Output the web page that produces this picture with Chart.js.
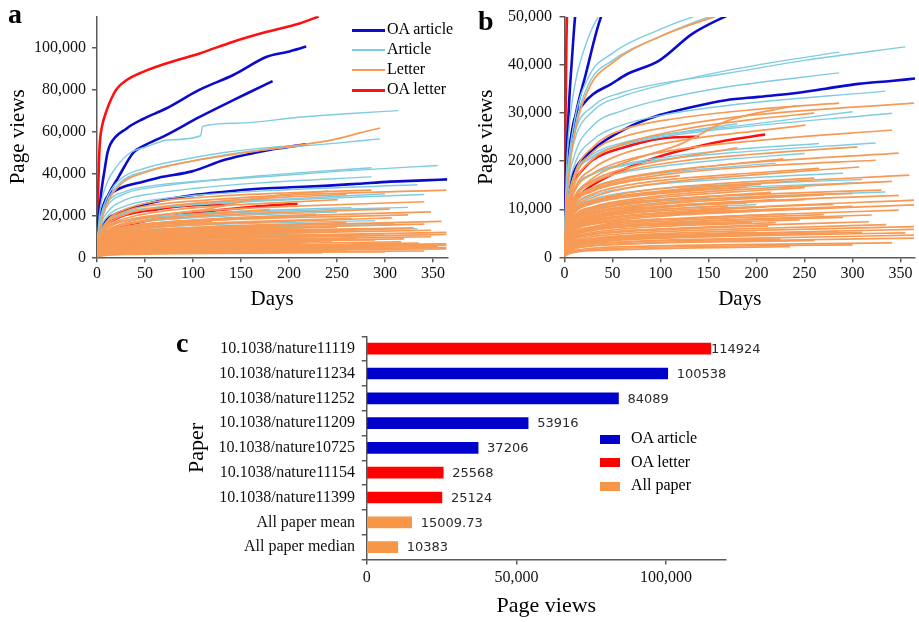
<!DOCTYPE html>
<html><head><meta charset="utf-8">
<script src="https://cdn.jsdelivr.net/npm/chart.js@4/dist/chart.umd.min.js"></script>
<style>
html,body{margin:0;padding:0;background:#fff;}
body{width:919px;height:622px;position:relative;overflow:hidden;font-family:"Liberation Serif","Times New Roman",serif;color:#000;}
canvas{position:absolute;}
.plabel{position:absolute;font-weight:bold;font-size:28px;line-height:28px;z-index:5;}
.leg{position:absolute;font-size:16px;line-height:18px;white-space:nowrap;z-index:5;}
.sw{position:absolute;}
</style></head><body>
<canvas id="ca" width="460" height="310" style="left:0;top:0"></canvas>
<canvas id="cb" width="459" height="310" style="left:460px;top:0"></canvas>
<canvas id="cc" width="749" height="302" style="left:170px;top:320px"></canvas>
<div class="plabel" style="left:8px;top:0px">a</div>
<div class="plabel" style="left:478px;top:7px">b</div>
<div class="plabel" style="left:176px;top:329px">c</div>
<div id="legA"></div>
<div id="legC"></div>
<script>
// ---------- DATA (panels a & b: cumulative page views by day) ----------
const oaArticleLabel = 'OA article';
const articleLabel = 'Article';
const letterLabel = 'Letter';
const oaLetterLabel = 'OA letter';

const oaArticleLines = [
  [[0,12000],[1,16000],[3,25000],[5,33000],[8,42000],[11,50000],[14,54000],[31,61500],[48,66000],[72,71000],[107,80000],[142,87000],[177,95700],[198,98000],[218,100538]],
  [[0,9000],[3,19000],[8,25000],[12,30000],[22,38000],[38,50000],[48,53000],[72,58300],[107,67000],[142,75000],[160,79000],[183,84089]],
  [[0,10000],[3,19000],[6,24000],[10,28500],[20,32000],[30,34000],[48,36000],[64,38000],[99,41000],[133,46500],[166,50000],[190,52000],[218,53916]],
  [[0,7000],[3,12000],[6,15500],[9,17500],[29,22300],[64,26800],[99,29600],[133,31300],[168,32700],[202,33400],[237,34100],[272,35100],[306,36100],[340,36700],[365,37206]]
];
const oaLetterLines = [
  [[0,8000],[1,28000],[2,45000],[3,55000],[5,62000],[10,70000],[20,80000],[31,84600],[48,88500],[72,92500],[107,97300],[142,102900],[177,107600],[211,111600],[231,114924]],
  [[0,3000],[3,8000],[6,11000],[13,12500],[29,15000],[64,18500],[99,21000],[133,22800],[168,24300],[209,25568]],
  [[0,4000],[3,10500],[6,14700],[13,16800],[29,20200],[64,23000],[99,24700],[140,25124]]
];
const articleLines = [
  [[0,6000],[3,22000],[10,35000],[20,43000],[35,50000],[50,52500],[75,56000],[108,58000],[110,62500],[145,64000],[210,66800],[260,68500],[314,70000]],
  [[0,5000],[3,15000],[10,26000],[25,36000],[50,41000],[100,46000],[150,50000],[200,52500],[250,54500],[295,56500]],
  [[0,5000],[3,17000],[10,28000],[25,37500],[50,42500],[100,47500],[133,50000],[170,52000],[210,53500]],
  [[0,5000],[3,16000],[10,24000],[30,30500],[60,33500],[100,35800],[170,38900],[230,41000],[286,42700]],
  [[0,5500],[3,17000],[10,25500],[30,31500],[60,34300],[100,36200],[170,38300],[250,41000],[355,43800]],
  [[0,4500],[3,14000],[10,21000],[30,27500],[60,30500],[100,32800],[170,35500],[286,38400]],
  [[0,4000],[3,12500],[10,19000],[30,24500],[60,27500],[100,29500],[170,31600],[334,34600]],
  [[0,3500],[3,11000],[10,17000],[30,21500],[60,23800],[100,25400],[170,27100],[300,30300]],
  [[0,3500],[3,10500],[10,16500],[30,21000],[60,23300],[100,25000],[170,26800],[341,30000]],
  [[0,2800],[3,9000],[10,14000],[30,17300],[60,19000],[100,20300],[170,21700],[324,23800]],
  [[0,2800],[3,9000],[10,14000],[30,17500],[60,19300],[100,20700],[170,22300],[265,23700]],
  [[0,1800],[3,6000],[10,9300],[30,11500],[60,12700],[100,13500],[170,14400],[327,15700]],
  [[0,1600],[3,5200],[10,8100],[30,10000],[60,11000],[100,11700],[170,12400],[334,13600]],
  [[0,2500],[3,8000],[10,12500],[30,15800],[60,17600],[100,18900],[170,20400],[250,21600]],
  [[0,2300],[3,7300],[10,11500],[30,14600],[60,16300],[100,17500],[170,18800],[220,19600]],
  [[0,2000],[3,6600],[10,10300],[30,12900],[60,14300],[100,15300],[170,16300],[290,17500]],
  [[0,1300],[3,4300],[10,6700],[30,8300],[60,9300],[100,10000],[200,11000]],
  [[0,900],[3,3000],[10,4600],[30,5800],[60,6500],[100,7000],[150,7500]],
  [[0,1900],[3,6200],[10,9700],[30,12100],[60,13400],[100,14300],[170,15100],[310,16200]],
  [[0,3200],[3,10500],[10,16500],[30,21000],[60,23500],[100,25300],[180,27800]]
];
const letterLines = [
  [[0,800],[3,4000],[10,6000],[30,7500],[60,8500],[120,9500],[200,10500],[364,11900]],
  [[0,600],[3,3500],[10,5500],[30,7000],[60,7800],[120,8800],[200,9600],[364,10900]],
  [[0,500],[3,3000],[10,5000],[30,6300],[60,7200],[120,8000],[200,8800],[348,9800]],
  [[0,300],[3,1800],[10,3000],[30,3900],[60,4500],[120,5100],[200,5600],[364,6400]],
  [[0,300],[3,1600],[10,2700],[30,3500],[60,4100],[120,4600],[200,5100],[364,5800]],
  [[0,200],[3,1200],[10,2100],[30,2800],[60,3200],[120,3700],[200,4000],[364,4600]],
  [[0,200],[3,1000],[10,1800],[30,2400],[60,2800],[120,3200],[200,3500],[364,4000]],
  [[0,150],[3,800],[10,1400],[30,1900],[60,2200],[120,2500],[200,2700],[341,3000]],
  [[0,400],[3,2200],[10,3700],[30,4700],[60,5400],[120,6100],[200,6700],[317,7400]],
  [[0,500],[3,2700],[10,4400],[30,5600],[60,6400],[120,7300],[200,8000],[320,8800]],
  [[0,900],[3,4200],[10,6800],[30,8400],[60,9500],[120,10700],[200,11700],[348,12900]],
  [[0,1100],[3,5500],[10,8500],[30,10500],[60,11800],[120,13200],[200,14300],[341,15800]],
  [[0,1200],[3,6000],[10,9200],[30,11300],[60,12700],[120,14200],[200,15400],[359,17100]],
  [[0,1300],[3,6500],[10,10000],[30,12500],[60,14200],[120,15900],[200,17200],[307,18800]],
  [[0,1500],[3,7500],[10,11500],[30,14500],[60,16400],[120,18300],[200,19800],[348,21700]],
  [[0,1800],[3,8500],[10,13500],[30,17500],[60,20000],[120,22500],[200,24300],[341,26500]],
  [[0,2000],[3,10000],[10,17000],[30,23000],[60,26500],[120,29000],[200,30800],[286,32100]],
  [[0,2000],[3,9500],[10,16000],[30,22000],[60,25000],[120,27500],[200,29700],[364,32100]],
  [[0,1500],[3,7000],[10,12000],[30,16500],[60,19500],[120,23500],[171,28500],[241,31600]],
  [[0,1800],[3,8500],[10,14000],[30,18500],[60,21500],[120,24300],[200,26300],[251,27500]],
  [[0,1900],[3,9000],[10,15000],[30,20500],[60,23500],[120,26500],[200,28800],[260,30000]],
  [[0,1000],[3,5200],[10,8200],[30,10200],[60,11500],[120,12800],[200,13900],[250,14500]],
  [[0,1000],[3,5000],[10,7800],[30,9700],[60,10900],[120,12200],[215,13500]],
  [[0,900],[3,4300],[10,6800],[30,8500],[60,9600],[120,10800],[220,12000]],
  [[0,700],[3,3800],[10,6000],[30,7500],[60,8500],[120,9500],[210,10500]],
  [[0,600],[3,3200],[10,5100],[30,6400],[60,7300],[120,8100],[230,9000]],
  [[0,500],[3,2700],[10,4400],[30,5600],[60,6300],[120,7000],[245,7800]],
  [[0,400],[3,2300],[10,3700],[30,4700],[60,5300],[120,5900],[212,6500]],
  [[0,300],[3,1800],[10,3000],[30,3800],[60,4300],[120,4800],[200,5200]],
  [[0,200],[3,1300],[10,2200],[30,2800],[60,3100],[120,3500],[225,3800]],
  [[0,150],[3,700],[10,1200],[30,1600],[60,1900],[120,2200],[200,2400],[300,2600]],
  [[0,800],[3,4000],[10,6400],[30,8000],[60,9000],[120,9900],[200,10500],[280,11000]],
  [[0,1000],[3,5000],[10,7900],[30,9800],[60,11000],[120,12300],[200,13100],[330,14000]],
  [[0,500],[3,2800],[10,4600],[30,5800],[60,6600],[120,7400],[200,7900],[290,8300]],
  [[0,1000],[3,5500],[10,8500],[30,10400],[60,11400],[120,12200],[150,12500]],
  [[0,700],[3,4000],[10,6400],[30,7800],[60,8600],[120,9200],[180,9500]],
  [[0,600],[3,3600],[10,5600],[30,6900],[60,7500],[100,8000]],
  [[0,400],[3,2400],[10,3900],[30,4900],[60,5500],[130,6000]],
  [[0,900],[3,5000],[10,7600],[30,9300],[60,10100],[80,10500]],
  [[0,500],[3,3200],[10,5000],[30,6300],[50,7000]],
  [[0,300],[3,1600],[10,2600],[30,3400],[60,3900],[120,4300],[160,4500]],
  [[0,900],[3,4700],[10,7400],[30,9100],[60,10200],[120,11400],[200,12300],[270,13000]],
  [[0,1200],[3,6200],[10,9600],[30,11800],[60,13200],[120,14700],[200,15800],[260,16500]],
  [[0,700],[3,3900],[10,6200],[30,7700],[60,8600],[120,9300],[200,9900],[240,10200]],
  [[0,1100],[3,6000],[10,9300],[30,11500],[60,12800],[120,14000],[205,15200]],
  [[0,800],[3,4500],[10,7100],[30,8800],[60,9800],[120,10700],[190,11300]],
  [[0,1100],[3,6200],[10,9600],[30,11800],[60,12800],[120,13700],[140,14000]],
  [[0,300],[3,1500],[10,2600],[30,3300],[60,3800],[120,4300],[200,4700],[310,5200]],
  [[0,100],[3,600],[10,1000],[30,1400],[60,1600],[120,1900],[235,2200]],
  [[0,500],[3,2800],[10,4600],[30,5800],[60,6400],[120,6900],[195,7200]],
  [[0,1300],[3,6800],[10,10500],[30,13200],[60,14800],[120,16400],[200,17600],[265,18500]],
  [[0,1400],[3,7200],[10,11300],[30,14300],[60,16200],[120,18200],[228,20500]],
  [[0,1600],[3,8000],[10,12500],[30,16000],[60,18300],[120,20800],[180,22800]],
  [[0,1500],[3,7500],[10,12000],[30,15500],[60,17800],[120,20000],[200,21500],[305,23000]],
  [[0,1400],[3,7000],[10,11000],[30,14000],[60,15800],[120,17600],[200,18900],[324,20200]],
  [[0,4000],[3,14000],[10,25000],[25,35000],[50,40500],[100,46000],[155,50000],[200,52800],[250,56500],[275,59500],[295,61700]],
  [[0,1300],[3,7000],[10,11000],[30,13800],[60,15500],[120,17000]],
  [[0,1000],[3,6000],[10,9300],[30,11700],[60,13000]],
  [[0,700],[3,3600],[10,5800],[30,7200],[60,8100],[120,9000],[200,9800],[300,10600]],
  [[0,400],[3,2000],[10,3300],[30,4300],[60,4900],[120,5500],[200,6000],[335,6800]],
  [[0,250],[3,1400],[10,2400],[30,3100],[60,3600],[120,4100],[200,4500],[355,5100]],
  [[0,1000],[3,4800],[10,7600],[30,9400],[60,10500],[120,11700],[200,12600],[300,13300]],
  [[0,1200],[3,5800],[10,9000],[30,11200],[60,12400],[120,13600],[190,14600]],
  [[0,600],[3,3000],[10,4900],[30,6100],[60,6900],[120,7700],[200,8400],[270,8900]],
  [[0,350],[3,1700],[10,2800],[30,3600],[60,4100],[120,4600],[200,5000],[285,5400]],
  [[0,800],[3,4100],[10,6600],[30,8200],[60,9200],[120,10200],[170,10700]],
  [[0,200],[3,1100],[10,1800],[30,2400],[60,2700],[120,3100],[200,3300],[260,3500]],
  [[0,900],[3,4400],[10,7000],[30,8700],[60,9800],[120,10900],[200,11600],[250,12000]],
  [[0,500],[3,2500],[10,4100],[30,5200],[60,5900],[120,6600],[220,7200]],
  [[0,1100],[3,5300],[10,8300],[30,10300],[60,11300],[110,12000]]
];

// axis ticks
const dayTickValues = [0,50,100,150,200,250,300,350];
const dayMax = 365;
const viewTicksA = [0,20000,40000,60000,80000,100000];
const viewMaxA = 115000;
const viewTicksB = [0,10000,20000,30000,40000,50000];
const viewMaxB = 50000;

// ---------- DATA (panel c) ----------
const paperLabels = ['10.1038/nature11119','10.1038/nature11234','10.1038/nature11252','10.1038/nature11209','10.1038/nature10725','10.1038/nature11154','10.1038/nature11399','All paper mean','All paper median'];
const paperViews = [114924,100538,84089,53916,37206,25568,25124,15009.73,10383];
const paperGroup = ['OA letter','OA article','OA article','OA article','OA article','OA letter','OA letter','All paper','All paper'];
const barLegendOrder = ['OA article','OA letter','All paper'];
const paperTicks = [0,50000,100000];
const paperMax = 120000;

// ---------- STYLE ----------
const SERIF = '"Liberation Serif","Times New Roman",serif';
const AXIS = '#5a5a5a';
const COL = {oaArticle:'#0b0bcc', article:'#7fcce0', letter:'#f79a55', oaLetter:'#ff1010'};
const BAR_COL = {'OA article':'#0000cc','OA letter':'#ff0000','All paper':'#f79646'};
const fmt = v => Number(v).toLocaleString('en-US');
const fixTicks = arr => (s => { s.ticks = arr.map(v => ({value:v})); });

function toXY(s){ return s.map(p => ({x:p[0], y:p[1]})); }
function lineDs(s, color, w, label){
  return {label, data:toXY(s), borderColor:color, borderWidth:w, pointRadius:0, fill:false,
          cubicInterpolationMode:'monotone', clip:0};
}
function buildDatasets(){
  const ds = [];
  letterLines.forEach(s => ds.push(lineDs(s, COL.letter, 1.7, letterLabel)));
  articleLines.forEach(s => ds.push(lineDs(s, COL.article, 1.4, articleLabel)));
  oaArticleLines.forEach(s => ds.push(lineDs(s, COL.oaArticle, 2.6, oaArticleLabel)));
  oaLetterLines.forEach(s => ds.push(lineDs(s, COL.oaLetter, 2.6, oaLetterLabel)));
  return ds;
}
function lineOptions(ymax, yticks, pad, yWidth, xHeight, yTitlePad, yTickPad){
  return {
    responsive:false, animation:false, events:[],
    layout:{padding:pad},
    plugins:{legend:{display:false}, tooltip:{enabled:false}},
    scales:{
      x:{type:'linear', min:0, max:dayMax, afterBuildTicks:fixTicks(dayTickValues),
         ticks:{autoSkip:false, maxRotation:0, color:'#111', padding:2, font:{family:SERIF, size:16}},
         grid:{drawOnChartArea:false, tickLength:5, color:AXIS, lineWidth:1.5},
         border:{color:AXIS, width:1.5},
         title:{display:true, text:'Days', color:'#000', font:{family:SERIF, size:21, lineHeight:1}, padding:0},
         afterFit(s){ s.height = xHeight; }},
      y:{type:'linear', min:0, max:ymax, afterBuildTicks:fixTicks(yticks),
         ticks:{autoSkip:false, color:'#111', padding:yTickPad, font:{family:SERIF, size:16}, callback:fmt},
         grid:{drawOnChartArea:false, tickLength:5, color:AXIS, lineWidth:1.5},
         border:{color:AXIS, width:1.5},
         title:{display:true, text:'Page views', color:'#000', font:{family:SERIF, size:21, lineHeight:1}, padding:{top:yTitlePad, bottom:0}},
         afterFit(s){ s.width = yWidth; }}
    }
  };
}

new Chart(document.getElementById('ca'), {
  type:'line', data:{datasets:buildDatasets()},
  options:lineOptions(viewMaxA, viewTicksA, {top:16.3, right:12.7, left:0, bottom:0}, 97, 52.7, 7.5, 6)
});
new Chart(document.getElementById('cb'), {
  type:'line', data:{datasets:buildDatasets()},
  options:lineOptions(viewMaxB, viewTicksB, {top:16.7, right:4, left:0, bottom:0}, 104.5, 52.7, 15.5, 7.5)
});

// value labels for bars
const barValuePlugin = {
  id:'barValues',
  afterDatasetsDraw(chart){
    const ctx = chart.ctx, meta = chart.getDatasetMeta(0), area = chart.chartArea;
    ctx.save();
    ctx.font = '13px "DejaVu Sans", sans-serif';
    ctx.fillStyle = '#2a2a2a';
    ctx.textBaseline = 'middle';
    ctx.textAlign = 'left';
    meta.data.forEach((bar, i) => {
      const x = Math.min(bar.x + 9, area.right - 15);
      ctx.fillText(String(paperViews[i]), x, bar.y + 1);
    });
    ctx.restore();
  }
};

new Chart(document.getElementById('cc'), {
  type:'bar',
  data:{labels:paperLabels, datasets:[{data:paperViews, backgroundColor:paperGroup.map(g => BAR_COL[g]), barThickness:11, borderWidth:0}]},
  options:{
    indexAxis:'y', responsive:false, animation:false, events:[],
    layout:{padding:{top:16, right:193, left:0, bottom:0}},
    plugins:{legend:{display:false}, tooltip:{enabled:false}},
    scales:{
      x:{type:'linear', min:0, max:paperMax, afterBuildTicks:fixTicks(paperTicks),
         ticks:{autoSkip:false, maxRotation:0, color:'#111', padding:4, font:{family:SERIF, size:16}, callback:fmt},
         grid:{drawOnChartArea:false, tickLength:5, color:AXIS, lineWidth:1.5},
         border:{color:AXIS, width:1.5},
         title:{display:true, text:'Page views', color:'#000', font:{family:SERIF, size:22, lineHeight:1}, padding:{top:0, bottom:5}},
         afterFit(s){ s.height = 62.5; }},
      y:{type:'category',
         ticks:{autoSkip:false, color:'#111', padding:6.7, font:{family:SERIF, size:16}},
         grid:{drawOnChartArea:false, offset:true, tickLength:5, color:AXIS, lineWidth:1.5},
         border:{color:AXIS, width:1.5},
         title:{display:true, text:'Paper', color:'#000', font:{family:SERIF, size:22, lineHeight:1}, padding:{top:16, bottom:0}},
         afterFit(s){ s.width = 196.7; }}
    }
  },
  plugins:[barValuePlugin]
});

// legend for panel a
const legA = document.getElementById('legA');
[[oaArticleLabel, COL.oaArticle, 3],[articleLabel, COL.article, 1.5],[letterLabel, COL.letter, 1.5],[oaLetterLabel, COL.oaLetter, 3]].forEach((it, i) => {
  const y = 30 + i*20;
  const sw = document.createElement('div');
  sw.className = 'sw';
  sw.style.cssText = `left:352px;top:${y - it[2]/2}px;width:33px;height:${it[2]}px;background:${it[1]}`;
  legA.appendChild(sw);
  const t = document.createElement('div');
  t.className = 'leg';
  t.style.cssText = `left:387px;top:${y - 10}px`;
  t.textContent = it[0];
  legA.appendChild(t);
});
// legend for panel c
const legC = document.getElementById('legC');
barLegendOrder.forEach((g, i) => {
  const y = 439 + i*23.5;
  const sw = document.createElement('div');
  sw.className = 'sw';
  sw.style.cssText = `left:600px;top:${y - 4.5}px;width:20px;height:9px;background:${BAR_COL[g]}`;
  legC.appendChild(sw);
  const t = document.createElement('div');
  t.className = 'leg';
  t.style.cssText = `left:631px;top:${y - 10}px`;
  t.textContent = g;
  legC.appendChild(t);
});
</script>
</body></html>
